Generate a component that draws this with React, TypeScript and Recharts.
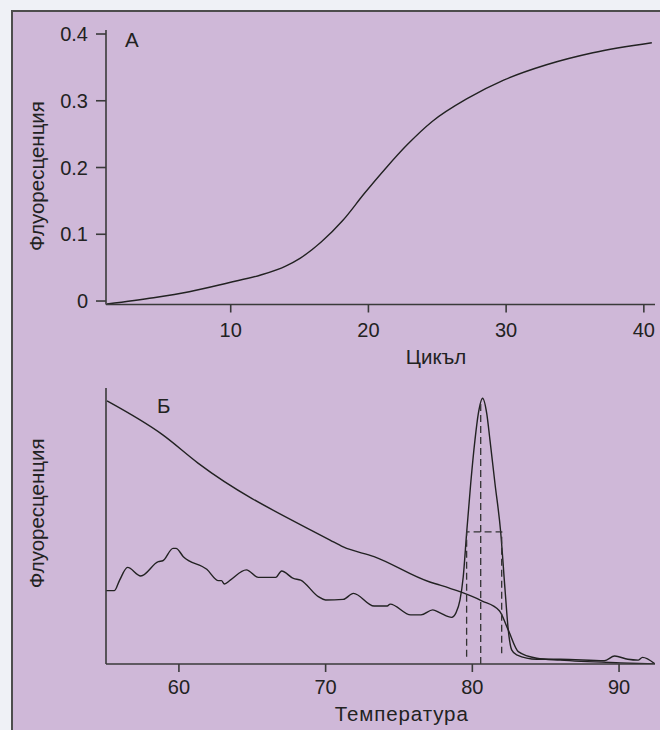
import React from 'react';
import { Line, LineChart, XAxis, YAxis } from 'recharts';

// Panel A: amplification curve (cycle -> fluorescence)
const cycles = [1.02, 4.4, 6.99, 9.85, 12.18, 13.99, 15.03, 16.59, 18.15, 19.7, 21.26, 22.81, 24.63, 27.23, 29.82, 32.93, 36.3, 40.58];
const fluorA = [-0.0045, 0.0049, 0.0139, 0.0274, 0.039, 0.0524, 0.064, 0.0888, 0.121, 0.161, 0.199, 0.234, 0.269, 0.304, 0.331, 0.354, 0.372, 0.387];
const cycleTicks = [10, 20, 30, 40];
const fluorTicks = [0, 0.1, 0.2, 0.3, 0.4];

// Panel B: melt curve and its derivative (temperature -> fluorescence, arbitrary units)
const meltTemp = [55.1, 58.9, 61.3, 70.3, 71.2, 73.3, 77.1, 77.8, 79.2, 80.64, 81.84, 82.45, 83.13, 84.39, 85.98, 90.1, 92.45];
const meltFluor = [95.3, 83.0, 72.8, 44.9, 42.4, 38.9, 29.7, 28.6, 26.1, 22.9, 19.3, 12.3, 4.5, 2.1, 1.4, 0.4, 0];

const derivTemp = [
  55.0, 55.6, 55.96, 56.5, 57.4, 58.6, 58.9, 59.6, 59.8, 60.3, 61.9, 62.7, 62.9, 63.1, 63.5, 64.6, 65.4, 66.6, 67.0,
  67.8, 68.3, 69.5, 70.0, 71.2, 71.9, 73.3, 74.2, 74.4, 75.8, 76.5, 77.3, 77.8, 78.59, 78.89, 79.16, 79.38, 79.61,
  79.89, 80.18, 80.41, 80.7, 80.98, 81.2, 81.54, 81.93, 82.23, 82.45, 82.68, 83.02, 84.39, 85.98, 89.0, 89.7, 90.6,
  91.3, 91.6, 92.45,
];
const derivFluor = [
  26.6, 26.6, 30.4, 35.0, 31.9, 37.1, 37.4, 41.9, 41.9, 38.9, 34.3, 30.2, 30.2, 29.0, 30.4, 34.1, 31.4, 31.4, 33.7,
  31.0, 30.4, 24.4, 23.2, 23.4, 25.6, 21.0, 21.0, 21.7, 17.8, 17.8, 19.6, 18.5, 16.9, 18.6, 23.2, 31.6, 47.4,
  65.5, 81.2, 90.8, 96.3, 90.8, 81.2, 65.5, 47.9, 26.8, 12.3, 5.1, 3.3, 1.7, 1.7, 1.2, 2.9, 1.7,
  1.4, 2.4, 0,
];

// half-width markers (dashed)
const bracketTemp = [79.61, 79.61, 82.0, 82.0];
const bracketFluor = [2.6, 47.9, 47.9, 3.9];
const peakTemp = [80.57, 80.57];
const peakFluor = [0, 94.6];
const tempTicks = [60, 70, 80, 90];

const zip = (xs: number[], ys: number[], k: string) => xs.map((x, i) => ({ [k]: x, v: ys[i] }));

const dataA = zip(cycles, fluorA, 'c');
const meltData = zip(meltTemp, meltFluor, 't');
const derivData = zip(derivTemp, derivFluor, 't');
const bracketData = zip(bracketTemp, bracketFluor, 't');
const peakData = zip(peakTemp, peakFluor, 't');

const FONT = '"Liberation Sans", Arial, Helvetica, sans-serif';
const INK = '#222';
const AXIS = '#3a3a3a';
const tickStyle = { fontSize: 20, fill: INK, fontFamily: FONT };

function PanelA() {
  return (
    <LineChart width={660} height={370} margin={{ top: 30, right: 5, bottom: 0, left: 0 }}>
      <XAxis
        type="number"
        dataKey="c"
        domain={[0.944, 40.81]}
        allowDataOverflow
        ticks={cycleTicks}
        tickSize={8}
        tickMargin={10}
        height={65.5}
        tick={tickStyle}
        stroke={AXIS}
        strokeWidth={1.6}
      />
      <YAxis
        type="number"
        domain={[-0.0052, 0.406]}
        allowDataOverflow
        ticks={fluorTicks}
        tickFormatter={(v: number) => (v === 0 ? '0' : v.toFixed(1))}
        tickSize={10}
        tickMargin={8}
        width={106}
        tick={tickStyle}
        stroke={AXIS}
        strokeWidth={1.6}
      />
      <Line data={dataA} dataKey="v" type="monotone" stroke={INK} strokeWidth={1.4} dot={false} isAnimationActive={false} />
    </LineChart>
  );
}

function PanelB() {
  return (
    <LineChart width={660} height={370} margin={{ top: 18, right: 5, bottom: 0, left: 0 }}>
      <XAxis
        type="number"
        dataKey="t"
        domain={[55.03, 92.45]}
        allowDataOverflow
        ticks={tempTicks}
        tickSize={8}
        tickMargin={8}
        height={76}
        tick={tickStyle}
        stroke={AXIS}
        strokeWidth={1.6}
      />
      <YAxis type="number" domain={[0, 100]} allowDataOverflow tick={false} tickLine={false} width={106} stroke={AXIS} strokeWidth={1.6} />
      <Line data={meltData} dataKey="v" type="monotone" stroke={INK} strokeWidth={1.4} dot={false} isAnimationActive={false} />
      <Line data={derivData} dataKey="v" type="monotone" stroke={INK} strokeWidth={1.4} dot={false} isAnimationActive={false} />
      <Line data={bracketData} dataKey="v" type="linear" stroke="#333" strokeWidth={1.3} strokeDasharray="7 4" dot={false} isAnimationActive={false} />
      <Line data={peakData} dataKey="v" type="linear" stroke="#333" strokeWidth={1.3} strokeDasharray="7 4" dot={false} isAnimationActive={false} />
    </LineChart>
  );
}

export default function App() {
  return (
    <div style={{ position: 'absolute', left: 0, top: 0, width: 660, height: 730, overflow: 'hidden', background: '#eff1f6', fontFamily: FONT }}>
      <div
        style={{
          position: 'absolute',
          left: 11,
          top: 10,
          width: 660,
          height: 740,
          background: '#cfb8d8',
          borderLeft: '2px solid #4d4d4d',
          borderTop: '2px solid #4d4d4d',
        }}
      />
      <div style={{ position: 'absolute', left: 0, top: 0 }}>
        <PanelA />
      </div>
      <div style={{ position: 'absolute', left: 0, top: 370 }}>
        <PanelB />
      </div>
      <svg width={660} height={730} style={{ position: 'absolute', left: 0, top: 0, pointerEvents: 'none' }}>
        <g fill={INK} fontFamily={FONT} fontSize={20.5}>
          <text x={125} y={46.5}>А</text>
          <text x={157} y={413.3}>Б</text>
          <text x={436} y={364} textAnchor="middle">Цикъл</text>
          <text x={401.7} y={720.5} textAnchor="middle" letterSpacing={0.9}>Температура</text>
          <text transform="translate(43.5,176) rotate(-90)" textAnchor="middle">Флуоресценция</text>
          <text transform="translate(43.5,513.3) rotate(-90)" textAnchor="middle">Флуоресценция</text>
        </g>
      </svg>
    </div>
  );
}
